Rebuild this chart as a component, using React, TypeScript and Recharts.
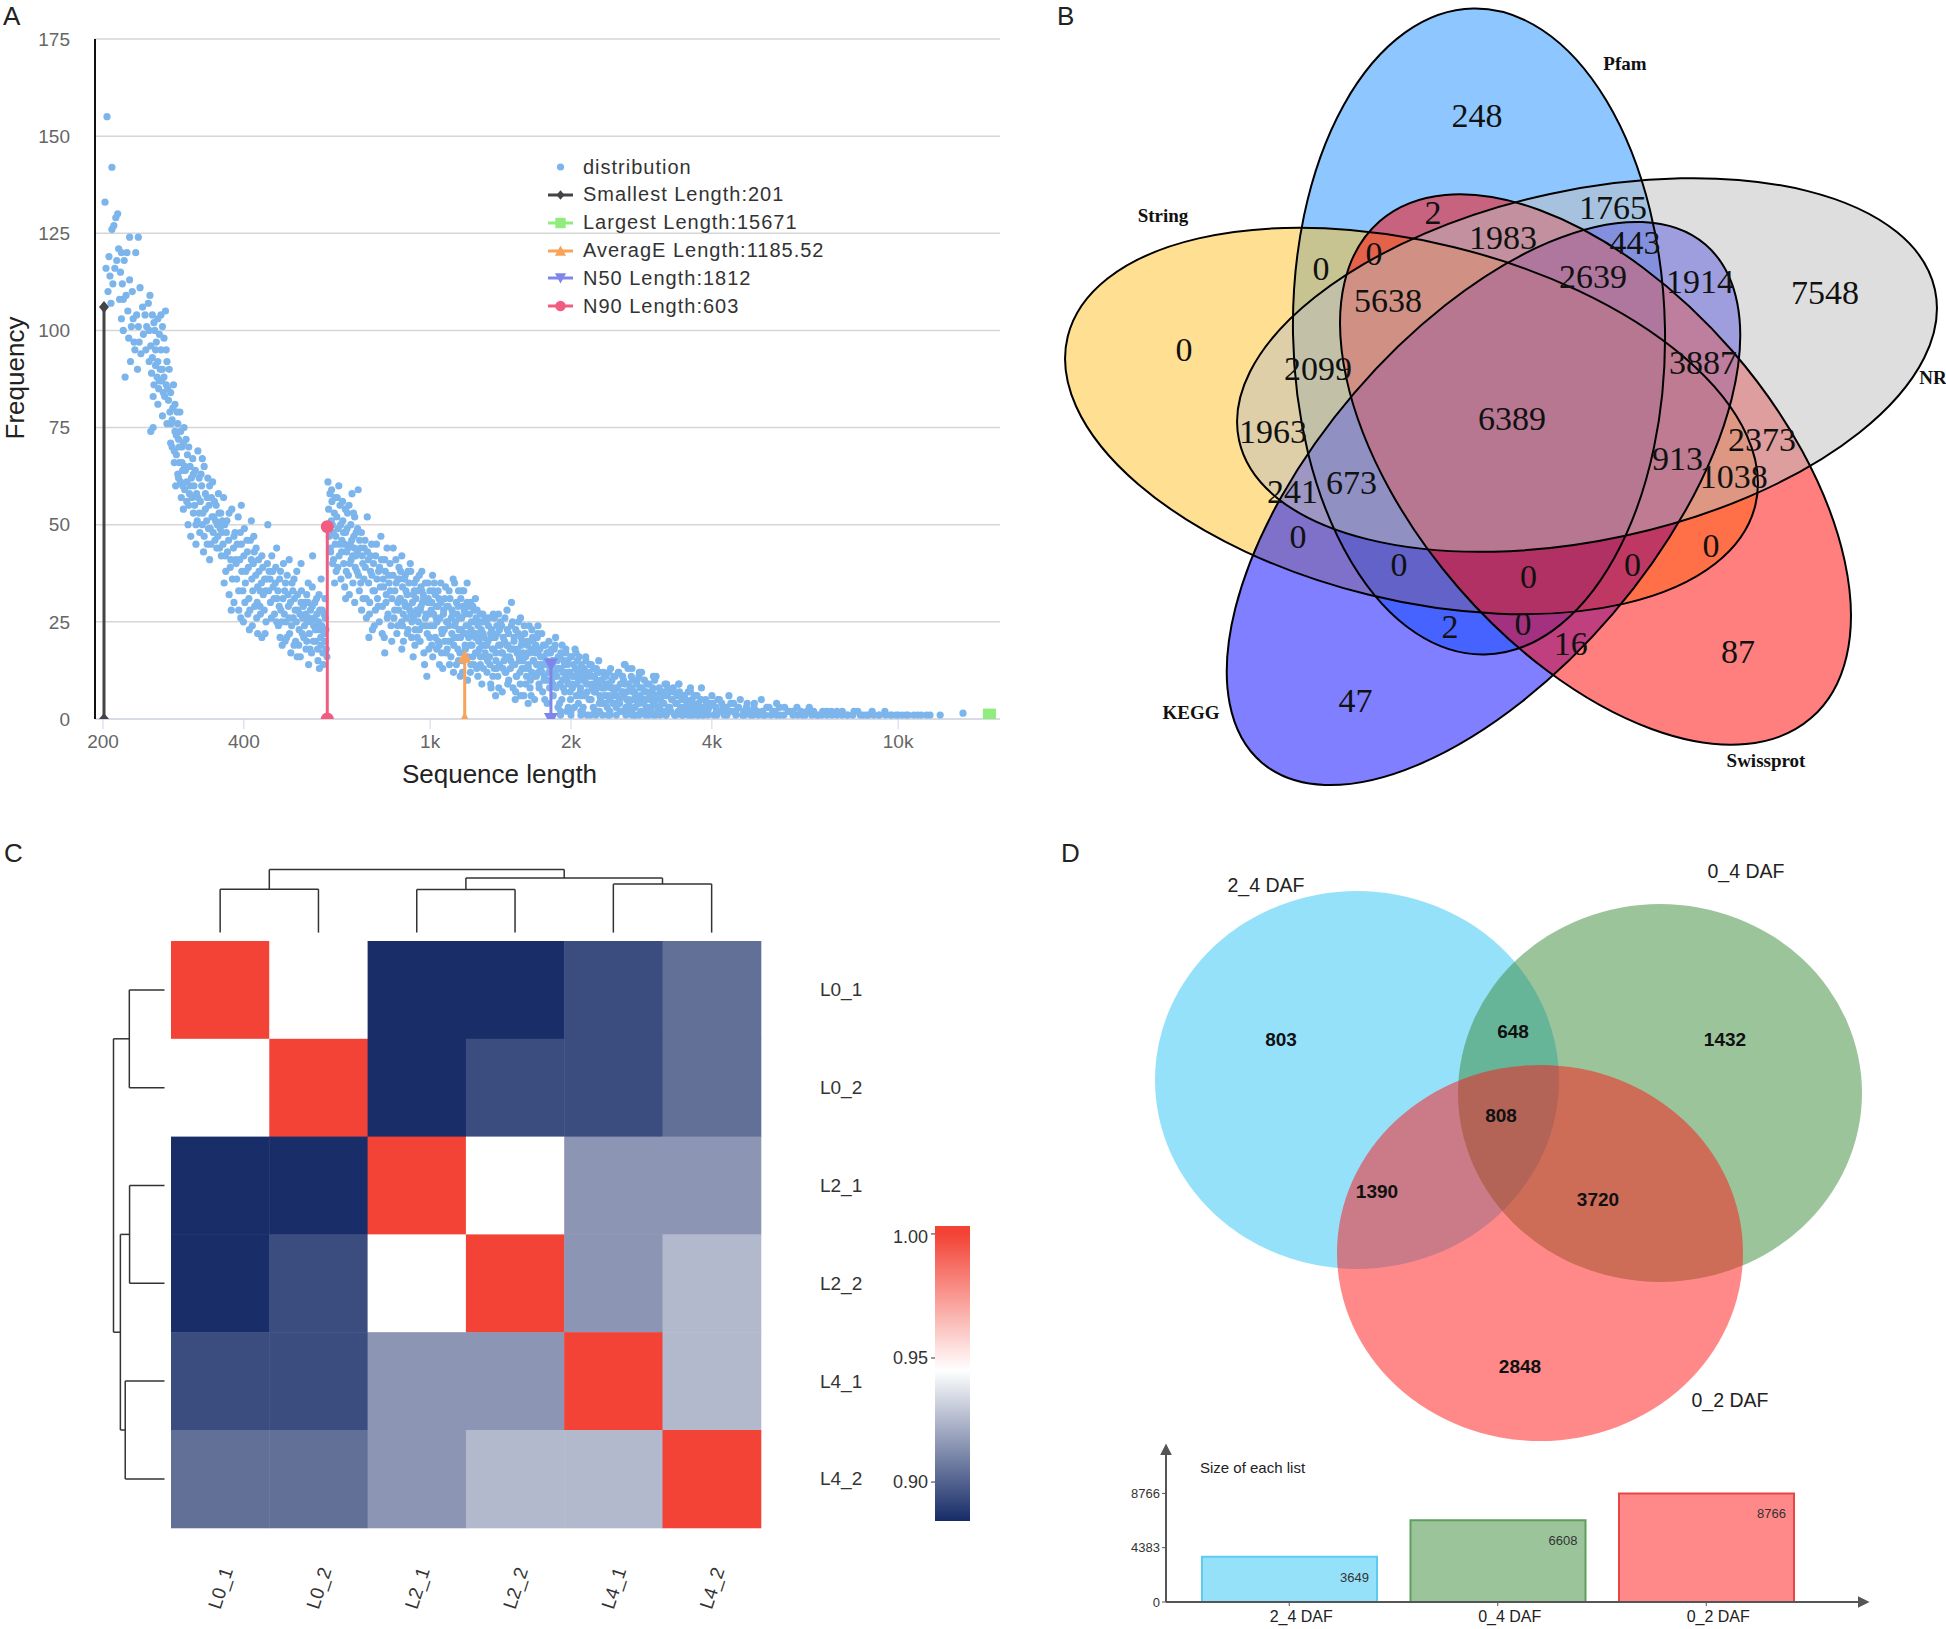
import React from 'react';
import {
  ScatterChart, Scatter, XAxis, YAxis, CartesianGrid, Legend, ReferenceLine,
  BarChart, Bar, LabelList, Cell,
} from 'recharts';

const SANS = '"Liberation Sans", Arial, Helvetica, sans-serif';
const SERIF = '"Liberation Serif", "Times New Roman", serif';

/* ---------------- A: length distribution ---------------- */
// [sequence length, frequency]
const distShort = [
  [202,133],[204,155],[205,110],[206,119],[207,114],[209,142],[209,126],[210,112],[211,127],[212,116],[213,129],[214,118],[215,130],[203,116],[208,107],[216,121],[218,115],[217,108],[219,120],[220,112],[221,108],[222,118],[225,120],[228,124],[228,113],[231,110],[219,103],[221,100],[224,109],[226,105],[227,98],[230,101],[232,103],[233,97],[229,92],[223,88],[234,95],[235,120],[236,104],[237,90],[238,124],[238,101],[239,97],[240,111],[241,94],[243,106],[244,99],[246,104],[247,95],[248,101],
  [250,107],[252,109],[255,104],[258,100],[260,97],[262,103],[264,99],[266,95],[268,101],[270,98],[272,105],[274,92],[251,92],[254,89],[257,86],[259,91],[261,88],[263,85],[265,90],[267,87],[269,84],[271,83],[273,86],[276,82],[253,74],[256,75],[278,79],[280,76],[282,80],[285,74],[288,79],[290,72],[292,79],[295,70],[298,75],[281,70],[284,66],[287,68],[289,63],[291,66],[293,61],[296,64],[299,59],[294,57],[297,54],[286,60],
  [301,72],[303,68],[305,70],[307,65],[309,62],[311,67],[313,60],[315,64],[317,58],[319,69],[321,62],[323,56],[325,60],[327,53],[329,65],[331,58],[333,51],[335,62],[337,55],[339,49],[341,57],[343,61],[345,52],[347,46],[349,55],[351,50],[353,58],[355,44],[357,53],[359,48],[304,50],[308,47],[312,53],[316,45],[322,48],[328,43],[334,45],[302,56],[318,51],[306,58],[326,67],[338,41],
  [362,57],[365,42],[368,51],[371,46],[374,39],[377,54],[380,44],[383,48],[386,36],[389,52],[392,41],[395,45],[398,33],[401,49],[404,38],[407,43],[410,31],[413,46],[416,36],[419,40],[422,29],[425,44],[428,34],[431,38],[434,27],[437,42],[440,32],[443,36],[446,25],[449,40],[363,35],[372,32],[381,30],[390,28],[399,25],[408,27],[417,24],[428,22],[437,21],[395,55],[415,51],[450,50],[367,48],[385,40],[402,30],[420,47],[433,33],
  [453,38],[456,30],[459,42],[462,34],[465,27],[468,39],[471,31],[474,24],[477,36],[480,28],[483,19],[486,40],[489,33],[492,25],[495,37],[498,29],[501,22],[504,17],[507,35],[510,26],[513,31],[516,20],[519,38],[522,28],[525,23],[528,16],[531,33],[534,26],[537,21],[540,30],[543,18],[546,25],[549,35],[552,22],[555,28],[558,17],[561,42],[564,24],[567,30],[570,20],[573,27],[576,15],[579,32],[582,23],[585,19],[588,28],[591,14],[594,22],[597,26],[600,18],[560,34],[530,40],[470,44],[500,41],[585,36],[478,21],[512,36],[545,32],[575,24],[596,31],
];
// second pass over the short-length part of the cloud
const distShortDense = [
  [251,100],[253,96],[255,93],[257,102],[259,95],[262,92],[264,87],[266,104],[268,90],[270,88],[273,95],[275,85],[277,90],[279,84],[281,77],[283,86],[285,81],[287,73],[289,76],[291,70],[293,74],[295,66],[297,71],[299,65],[256,83],[262,81],[268,78],[274,76],[279,71],[284,69],[290,62],[296,60],
  [300,64],[302,61],[305,55],[307,60],[310,57],[312,63],[314,55],[316,50],[319,57],[321,53],[324,63],[326,50],[329,47],[331,54],[334,57],[336,49],[338,60],[340,45],[342,52],[344,48],[346,56],[348,51],[350,44],[352,47],[354,53],[356,49],[358,42],[360,51],
  [361,45],[364,50],[366,38],[369,43],[372,53],[375,41],[378,36],[381,47],[384,41],[387,45],[390,33],[393,48],[396,38],[400,42],[403,35],[406,46],[409,39],[412,28],[415,41],[418,33],[421,43],[424,37],[427,30],[430,41],[433,29],[436,35],[439,39],[442,28],[445,33],[448,36],[376,28],[394,26],[411,23],[426,26],[444,22],
  [452,33],[455,36],[458,26],[461,38],[464,31],[467,35],[470,25],[473,33],[476,29],[479,38],[482,25],[485,31],[488,27],[491,35],[494,21],[497,32],[500,26],[503,30],[506,24],[509,33],[512,19],[515,28],[518,25],[521,32],[524,19],[527,27],[530,30],[533,22],[536,29],[539,24],[542,27],[545,20],[548,30],[551,26],[554,18],[557,25],[560,29],[563,20],[566,26],[569,23],[572,31],[575,18],[578,25],[581,28],[584,21],[587,24],[590,17],[593,27],[596,20],[599,23],[602,16],[490,20],[520,16],[550,14],[580,13],
];
const distMid = [
  [605,61],[607,54],[609,47],[611,58],[613,43],[615,51],[617,56],[619,40],[621,48],[624,53],[627,45],[630,38],[633,57],[636,49],[639,42],[642,55],[645,36],[648,46],[651,51],[654,40],[657,34],[660,48],[663,43],[666,53],[669,37],[672,32],[675,45],[678,41],[681,58],[684,35],[687,47],[690,30],[694,42],[698,38],[702,59],[706,33],[710,44],[714,28],[718,40],[625,35],[660,31],[690,52],[700,49],
  [722,36],[726,46],[730,31],[734,52],[738,41],[742,27],[746,38],[750,45],[755,33],[760,24],[765,42],[770,36],[775,29],[780,39],[785,47],[790,22],[795,34],[800,41],[805,30],[810,26],[816,37],[822,33],[828,20],[834,44],[840,28],[846,35],[852,24],[858,39],[864,31],[870,18],[876,27],[882,36],[888,33],[894,22],[900,29],[907,40],[914,25],[921,32],[928,19],[935,36],[942,27],[949,23],[956,34],[963,30],[970,17],[977,26],[984,11],[991,31],[998,21],[740,21],[800,17],[870,42],[920,16],[960,38],[990,35],
  [853,30],[861,36],[873,24],[885,29],[897,38],[911,27],[925,33],[939,21],[953,28],[967,32],[981,24],[995,27],
  [1005,28],[1012,37],[1019,24],[1026,32],[1033,18],[1040,29],[1047,14],[1054,35],[1061,22],[1068,27],[1075,31],[1082,17],[1090,25],[1098,33],[1106,20],[1114,28],[1122,12],[1130,24],[1138,30],[1146,18],[1154,26],[1162,21],[1170,33],[1178,15],[1186,27],[1194,22],[1202,10],[1210,29],[1218,19],[1226,25],[1234,16],[1242,28],[1250,21],[1258,13],[1266,24],[1274,18],[1282,27],[1290,9],[1298,22],[1306,16],[1314,26],[1040,20],[1100,14],[1160,11],[1220,30],[1280,14],[1180,33],
  [1008,19],[1016,33],[1030,26],[1044,31],[1058,17],[1072,23],[1086,29],[1094,20],[1110,26],[1126,21],[1142,27],[1150,15],[1166,23],[1174,29],[1190,18],[1206,24],[1222,14],[1238,22],[1254,26],[1262,17],[1278,21],[1294,25],[1310,19],
  [1322,19],[1332,24],[1342,14],[1352,21],[1362,11],[1372,26],[1382,17],[1392,22],[1402,8],[1412,19],[1422,24],[1432,13],[1442,20],[1452,16],[1462,23],[1472,10],[1482,18],[1492,30],[1502,14],[1512,21],[1523,7],[1534,17],[1545,22],[1556,12],[1567,19],[1578,15],[1589,24],[1600,9],[1611,20],[1622,13],[1633,17],[1644,6],[1655,21],[1666,11],[1677,18],[1688,14],[1699,22],[1710,8],[1722,16],[1734,12],[1746,19],[1758,5],[1770,15],[1782,10],[1794,20],[1400,27],[1500,25],[1650,23],[1350,8],[1560,6],[1700,17],
  [1327,15],[1347,22],[1367,18],[1387,13],[1407,23],[1427,17],[1447,12],[1467,19],[1487,15],[1507,18],[1528,11],[1550,16],[1572,20],[1594,13],[1616,17],[1638,10],[1660,15],[1682,19],[1704,12],[1728,14],[1752,10],[1776,17],[1800,12],
  [1806,13],[1818,18],[1830,9],[1842,15],[1854,21],[1866,11],[1878,16],[1890,4],[1902,13],[1914,19],[1926,8],[1938,14],[1950,17],[1962,10],[1974,3],[1986,12],[1998,16],
  [1824,15],[1848,11],[1872,13],[1896,16],[1920,10],[1944,12],[1968,15],[1992,7],[1900,2],
];
// second pass over the dense body of the cloud
const distDense = [
  [612,44],[616,59],[618,50],[622,41],[626,57],[629,47],[632,52],[635,39],[638,60],[641,45],[644,50],[647,43],[650,56],[653,48],[656,45],[659,54],[662,38],[665,49],[668,44],[671,55],[674,40],[677,50],[680,46],[683,42],[686,53],[689,44],[692,39],[695,48],[699,43],[703,37],[707,46],
  [711,35],[713,48],[716,42],[719,31],[723,44],[727,39],[731,26],[735,43],[739,35],[743,30],[747,42],[751,37],[753,23],[757,40],[761,33],[764,28],[768,45],[772,31],[776,38],[779,25],[783,34],[787,41],[791,29],[794,36],[798,21],[802,38],[806,32],[809,44],[813,27],[817,35],[821,40],[825,24],[829,31],[833,37],[837,26],[841,33],[845,41],[849,22],[853,36],[857,28],[861,31],[865,38],[869,25],[873,34],[877,20],[881,30],[885,37],[889,26],[893,32],[897,23],[901,35],[905,28],[909,38],[913,21],[917,30],[921,26],[925,35],[929,23],[933,31],[936,28],
  [939,33],[944,25],[948,37],[952,20],[956,29],[960,33],[965,24],[969,31],[973,14],[977,35],[981,27],[986,22],[990,30],[994,18],[999,33],[1003,24],[1008,30],[1013,16],[1017,27],[1021,35],[1026,21],[1031,29],[1035,25],[1040,33],[1045,19],[1050,26],[1055,30],[1059,23],[1064,13],[1069,28],[1074,20],[1079,34],[1084,25],[1088,18],[1093,29],[1098,24],[1103,31],[1108,16],[1113,22],[1118,27],[1123,19],[1128,35],[1133,25],[1138,14],[1143,21],[1148,29],[1153,23],[1158,17],[1163,31],[1168,26],[1173,12],[1178,22],[1183,28],[1188,19],[1193,24],[1199,30],[1204,16],[1209,21],[1214,27],[1219,12],[1224,23],[1229,19],[1234,29],[1240,14],[1245,25],[1250,17],[1255,22],[1260,28],[1265,11],[1270,20],[1275,25],[1281,16],[1286,23],[1291,19],[1296,27],[1300,13],[1120,36],[1150,33],[1200,35],[1250,31],
  [1305,21],[1311,17],[1317,25],[1323,12],[1329,20],[1335,26],[1341,16],[1347,9],[1353,23],[1359,18],[1365,27],[1371,13],[1377,21],[1383,15],[1389,24],[1395,11],[1401,19],[1407,14],[1414,25],[1420,17],[1426,7],[1433,21],[1439,15],[1445,26],[1452,12],[1458,19],[1465,9],[1471,22],[1478,16],[1484,13],[1491,24],[1497,18],[1504,8],[1511,20],[1517,14],[1524,23],[1531,11],[1538,18],[1544,25],[1551,15],[1558,9],[1565,21],[1572,13],[1579,17],[1586,6],[1593,22],[1600,16],[1607,11],[1614,19],[1621,14],[1628,24],[1635,8],[1643,18],[1650,12],[1657,20],[1665,15],[1672,5],[1679,17],[1687,11],[1694,21],[1702,14],[1709,9],[1717,18],[1724,13],[1732,22],[1740,7],[1747,16],[1755,11],[1763,19],[1771,14],[1779,4],[1787,17],[1795,12],[1800,8],[1460,28],[1560,26],[1700,24],[1620,4],[1520,5],[1380,6],
  [1808,17],[1816,10],[1825,14],[1833,6],[1842,18],[1850,12],[1859,8],[1868,15],[1876,3],[1885,13],[1894,9],[1903,17],[1912,5],[1921,12],[1930,15],[1939,7],[1948,11],[1958,2],[1967,14],[1976,9],[1986,12],[1995,5],[2005,16],[2014,8],[2024,11],[2034,3],[2044,13],[2054,9],[2064,15],[2074,4],[2084,11],[2094,7],[2104,14],[2114,2],[2125,10],[2135,13],[2146,6],[2156,11],[2167,1],[2178,9],[2189,12],[2199,5],[2210,14],[2221,8],[2232,3],[2244,11],[2255,7],[2266,13],[2278,2],[2289,9],[2301,12],[2313,5],[2324,10],[2336,1],[2348,8],[2360,11],[2372,4],[2384,9],[2397,6],[2409,12],[2421,2],[2434,8],[2446,10],[2459,4],[2472,7],[2485,11],[2498,3],[1850,19],[1950,18],[2050,17],[2150,16],[1900,1],[2000,2],[2100,1],[2260,1],[2420,1],
  [2512,8],[2525,12],[2538,5],[2551,9],[2565,2],[2578,11],[2592,6],[2606,9],[2620,1],[2634,7],[2648,13],[2662,4],[2676,8],[2690,2],[2705,10],[2719,5],[2734,7],[2749,1],[2764,9],[2779,4],[2794,11],[2809,6],[2824,2],[2840,8],[2855,5],[2871,10],[2887,1],[2903,7],[2919,3],[2935,9],[2951,5],[2968,2],[2984,7],[3001,4],[3018,10],[3035,1],[3052,6],[3069,3],[3087,8],[3104,5],[3122,2],[3140,7],[3158,4],[3176,9],[3195,1],[3213,6],[3232,3],[3251,7],[3270,2],[3290,5],[3309,8],[3329,1],[3349,4],[3369,6],[3389,2],[3410,7],[3431,3],[3452,5],[3473,1],[3494,6],[3516,2],[3538,4],[3560,7],[3582,3],[3605,1],[3628,5],[3651,2],[3674,6],[3698,3],[3722,1],[3746,4],[3770,2],[3795,5],[3820,1],[3845,3],[3870,2],[3896,4],[3922,1],[3948,3],[2600,14],[2700,13],[2800,12],[3000,11],[3200,9],[3400,9],[3600,8],
];
const distLong = [
  [2012,9],[2026,14],[2040,18],[2054,6],[2068,12],[2082,16],[2096,8],[2110,13],[2124,3],[2138,10],[2152,15],[2166,7],[2180,11],[2194,14],[2208,5],[2222,9],[2236,13],[2250,2],[2264,8],[2278,12],[2292,15],[2306,6],[2320,10],[2334,4],[2348,12],[2362,8],[2376,11],[2390,3],
  [2018,11],[2047,13],[2075,10],[2103,6],[2131,12],[2159,9],[2187,5],[2215,11],[2243,7],[2271,10],[2299,4],[2327,8],[2355,6],[2383,9],[2000,1],[2100,2],[2200,1],[2300,2],
  [2410,9],[2430,13],[2450,6],[2470,11],[2490,4],[2510,8],[2530,12],[2550,2],[2570,7],[2590,10],[2610,14],[2630,5],[2650,9],[2670,3],[2690,11],[2710,7],[2730,1],[2750,6],[2770,10],[2790,4],[2810,8],[2830,12],[2850,2],[2870,7],[2890,5],[2910,9],[2930,1],[2950,6],[2970,3],[2990,8],[3010,5],[3040,11],[3070,2],[3100,7],[3130,4],[3160,6],[3190,1],
  [2420,5],[2460,8],[2500,6],[2540,4],[2580,7],[2620,3],[2660,5],[2700,8],[2740,3],[2780,5],[2820,2],[2860,4],[2900,3],[2960,2],[3020,4],[3090,3],[3150,2],[2400,1],[2500,1],[2600,2],[2700,1],[2800,1],[2900,2],[3000,1],[3100,1],
  [3220,8],[3250,3],[3280,5],[3310,7],[3340,1],[3370,4],[3400,9],[3430,2],[3460,6],[3490,3],[3520,5],[3560,1],[3600,7],[3640,4],[3680,2],[3720,6],[3760,3],[3800,8],[3840,1],[3880,5],[3920,2],[3960,4],[4000,6],[4040,1],[4080,3],[4120,5],[4160,2],[4200,4],[4250,1],[4300,3],[4350,6],[4400,2],[4450,4],[4500,1],[4550,3],[4600,5],
  [3250,2],[3350,1],[3450,1],[3550,2],[3650,1],[3750,1],[3900,2],[4100,1],[4300,2],[4500,2],[4700,1],[4900,1],[5150,1],[5500,1],
  [4020,4],[4090,2],[4150,5],[4230,3],[4310,1],[4390,4],[4470,2],[4560,3],[4650,1],[4740,3],[4830,2],[4930,4],[5030,1],[5130,2],[5240,3],[5350,1],[5460,2],[5580,3],[5700,1],[5830,2],[5960,2],[6100,1],[6240,1],[6390,2],[6540,1],[6700,1],[6870,1],[7040,2],[7220,1],[7400,2],[7590,1],[7790,1],[8000,1],[8200,2],[8420,1],[8650,1],[8880,1],[9120,1],[9370,2],[9630,1],[9900,1],[10200,1],[10500,1],[11000,1],[11500,1],
  [4680,2],[4760,4],[4840,1],[4920,3],[5000,2],[5100,5],[5200,1],[5300,3],[5400,2],[5500,4],[5600,1],[5720,3],[5840,2],[5960,1],[6080,3],[6200,2],[6330,1],[6460,3],[6600,2],[6750,1],[6900,2],[7050,1],[7200,2],[7400,1],[7600,2],[7800,1],
  [8050,2],[8300,1],[8550,1],[8800,2],[9100,1],[9400,1],[9700,1],[10000,1],[10400,1],[10800,1],[11200,1],[11700,1],[12300,1],[13760,1.5],
];
const lengthTicks = [200, 400, 1000, 2000, 4000, 10000];
const freqTicks = [0, 25, 50, 75, 100, 125, 150, 175];
const statNames = ['Smallest Length:201', 'Largest Length:15671', 'AveragE Length:1185.52', 'N50 Length:1812', 'N90 Length:603'];
const statLengths = [201, 15671, 1185.52, 1812, 603];
const statFreqs = [106, 1, 16, 14, 49.5];
const statColors = ['#434348', '#90ed7d', '#f7a35c', '#8085e9', '#f15c80'];
const statMarkers = ['diamond', 'square', 'triangle', 'triangle-down', 'circle'];

/* ---------------- B: five-set venn ---------------- */
const vennBSets = ['Pfam', 'String', 'KEGG', 'Swissprot', 'NR'];
const vennBCounts = [248, 7548, 87, 47, 0, 1765, 2, 1983, 443, 0, 0, 2639, 1914, 5638, 2099, 3887, 6389, 1963, 2373, 913, 1038, 241, 673, 0, 0, 0, 0, 0, 2, 0, 16];
// layout (panel pixels)
const vennBColors = ['#1E90FF', '#FFC125', '#0000FF', '#FF0000', '#BDBDBD'];
const vennBShapes = [
  { x: 439, y: 331.5, rx: 323, ry: 186, rot: 89 },
  { x: 371.5, y: 421, rx: 354, ry: 179, rot: 13.8 },
  { x: 443.5, y: 503.5, rx: 341, ry: 170, rot: 130.6 },
  { x: 555.5, y: 469.5, rx: 329, ry: 181, rot: 49 },
  { x: 547, y: 365, rx: 356, ry: 175, rot: -12.2 },
];
const vennBSetPos = [[585, 63.5], [123, 215], [151, 712.5], [726, 760], [893, 377.6]];
const vennBCountPos = [[437,115],[785,292],[698,651],[315.5,700],[144,349.5],[573,207],[393,212],[463,237],[595,242],[281,268.6],[334,253],[553,276],[660,281],[348,300.6],[278,368],[663,362],[472,418.6],[233,431.5],[722,439],[637.5,458],[693.7,476.5],[252.6,491.7],[311.6,482],[258,536.6],[359,564.7],[488.6,576],[592.5,564.7],[671,545],[410,626.5],[483,623.7],[530.7,643]];

/* ---------------- C: correlation heatmap ---------------- */
const sampleNames = ['L0_1', 'L0_2', 'L2_1', 'L2_2', 'L4_1', 'L4_2'];
const corr = [
  [1.000, 0.945, 0.885, 0.885, 0.894, 0.904],
  [0.945, 1.000, 0.885, 0.894, 0.894, 0.904],
  [0.885, 0.885, 1.000, 0.945, 0.915, 0.915],
  [0.885, 0.894, 0.945, 1.000, 0.915, 0.925],
  [0.894, 0.894, 0.915, 0.915, 1.000, 0.925],
  [0.904, 0.904, 0.915, 0.925, 0.925, 1.000],
];
// hierarchical clustering: children (leaves 0-5, merges 6..) and relative heights
const mergePairs = [[0, 1], [2, 3], [4, 5], [7, 8], [6, 9]];
const mergeHeights = [0.69, 0.685, 0.77, 0.865, 1.0];
const scaleMin = 0.8843, scaleWhite = 0.945, scaleMax = 1.0032;
const scaleTicks = [0.9, 0.95, 1.0];

/* ---------------- D: three-set venn + list sizes ---------------- */
const vennDSets = ['2_4 DAF', '0_4 DAF', '0_2 DAF'];
const vennDCounts = [803, 648, 1432, 808, 1390, 3720, 2848];
const vennDShapes = [
  { x: 317, y: 250, rx: 202, ry: 189 },
  { x: 620, y: 263, rx: 202, ry: 189 },
  { x: 500, y: 423, rx: 203, ry: 188 },
];
const vennDColors = ['#2DC3F5', '#378937', '#FF1313'];
const vennDSetPos = [[226, 55], [706, 41], [690, 570]];
const vennDCountPos = [[241, 209], [473, 201], [685, 209], [461, 285], [337, 361], [558, 369], [480, 536]];
const listSizes = [3649, 6608, 8766];
const listTicks = [0, 4383, 8766];
const barFills = ['#96E1FA', '#9BC49B', '#FF8989'];
const barStrokes = ['#5CCBEF', '#5E9E5E', '#E84545'];

/* ---------------- helpers ---------------- */
const fmtLen = (v: number) => (v >= 1000 ? `${v / 1000}k` : `${v}`);

const markerShape = (kind: string, color: string, cx: number, cy: number, k = 1) => {
  switch (kind) {
    case 'diamond':
      return <path d={`M${cx},${cy - 6 * k}L${cx + 5 * k},${cy}L${cx},${cy + 6 * k}L${cx - 5 * k},${cy}Z`} fill={color} />;
    case 'square':
      return <rect x={cx - 6.5 * k} y={cy - 6.5 * k} width={13 * k} height={13 * k} fill={color} />;
    case 'triangle':
      return <path d={`M${cx},${cy - 7 * k}L${cx + 7 * k},${cy + 6 * k}L${cx - 7 * k},${cy + 6 * k}Z`} fill={color} />;
    case 'triangle-down':
      return <path d={`M${cx - 7 * k},${cy - 6 * k}L${cx + 7 * k},${cy - 6 * k}L${cx},${cy + 7 * k}Z`} fill={color} />;
    default:
      return <circle cx={cx} cy={cy} r={6.5 * k} fill={color} />;
  }
};

const NAVY = [22, 43, 103], WHITE = [255, 255, 255], RED = [243, 67, 54];
const mix = (a: number[], b: number[], t: number) => {
  const c = a.map((v, i) => Math.round(v + (b[i] - v) * Math.max(0, Math.min(1, t))));
  return `rgb(${c[0]},${c[1]},${c[2]})`;
};
const heatColor = (v: number) =>
  v <= scaleWhite
    ? mix(NAVY, WHITE, (v - scaleMin) / (scaleWhite - scaleMin))
    : mix(WHITE, RED, (v - scaleWhite) / (1 - scaleWhite));

const LegendA = () => (
  <div style={{ fontFamily: SANS, fontSize: 20, color: '#333', letterSpacing: 1 }}>
    <div style={{ display: 'flex', alignItems: 'center', height: 28 }}>
      <svg width={30} height={28}><circle cx={12.5} cy={14} r={3.6} fill="#7cb5ec" /></svg>
      <span style={{ marginLeft: 5 }}>distribution</span>
    </div>
    {statNames.map((n, i) => (
      <div key={n} style={{ display: 'flex', alignItems: 'center', height: 27.8 }}>
        <svg width={30} height={28}>
          <line x1={0} x2={25} y1={14} y2={14} stroke={statColors[i]} strokeWidth={3} />
          {markerShape(statMarkers[i], statColors[i], 12.5, 14, 0.8)}
        </svg>
        <span style={{ marginLeft: 5 }}>{n}</span>
      </div>
    ))}
  </div>
);

const PanelA = () => {
  const dist = [...distShort, ...distShortDense, ...distMid, ...distDense, ...distLong].map(([x, y]) => ({ x, y }));
  return (
    <ScatterChart width={1010} height={800} margin={{ top: 39, right: 10, bottom: 0, left: 0 }}>
      <CartesianGrid horizontal vertical={false} stroke="#d6d6d6" strokeWidth={1.5} />
      <XAxis
        type="number" dataKey="x" scale="log" domain={[192.3, 16508]} allowDataOverflow
        ticks={lengthTicks} tickFormatter={fmtLen} height={81}
        axisLine={{ stroke: '#ccd6eb' }} tickLine={{ stroke: '#ccd6eb' }} tickSize={10} tickMargin={6}
        tick={{ fontSize: 19, fill: '#666', fontFamily: SANS }}
        label={{
          content: () => (
            <text x={499.5} y={783} textAnchor="middle" fontSize={26} fill="#222" fontFamily={SANS}>Sequence length</text>
          ),
        }}
      />
      <YAxis
        type="number" dataKey="y" domain={[0, 175]} allowDataOverflow ticks={freqTicks} width={95}
        axisLine={{ stroke: '#111', strokeWidth: 2 }} tickLine={false} tickSize={0} tickMargin={25}
        tick={{ fontSize: 19, fill: '#666', fontFamily: SANS }}
        label={{
          content: () => (
            <text x={24} y={378} transform="rotate(-90 24 378)" textAnchor="middle" fontSize={26} fill="#222" fontFamily={SANS}>Frequency</text>
          ),
        }}
      />
      <Legend layout="vertical" align="center" verticalAlign="middle" content={() => <LegendA />}
        wrapperStyle={{ left: 548, top: 153, width: 340 }} />
      <Scatter name="distribution" data={dist} fill="#7cb5ec" isAnimationActive={false}
        shape={(p: any) => <circle cx={p.cx} cy={p.cy} r={3.6} fill="#7cb5ec" />} />
      {statNames.map((n, i) => (
        <Scatter key={n} name={n} data={[{ x: statLengths[i], y: 0 }, { x: statLengths[i], y: statFreqs[i] }]}
          fill={statColors[i]} line={{ stroke: statColors[i], strokeWidth: 3 }} isAnimationActive={false}
          shape={(p: any) => markerShape(statMarkers[i], statColors[i], p.cx, p.cy)} />
      ))}
    </ScatterChart>
  );
};

const PanelB = () => {
  const shapes = vennBShapes.map((s, i) => ({ ...s, name: vennBSets[i], color: vennBColors[i] }));
  const counts = vennBCounts.map((c, i) => ({ x: vennBCountPos[i][0], y: vennBCountPos[i][1], label: String(c) }));
  const sets = vennBSets.map((n, i) => ({ x: vennBSetPos[i][0], y: vennBSetPos[i][1], label: n }));
  const ell = (outline: boolean) => (p: any) => (
    <ellipse cx={p.cx} cy={p.cy} rx={p.payload.rx} ry={p.payload.ry}
      transform={`rotate(${p.payload.rot} ${p.cx} ${p.cy})`}
      fill={outline ? 'none' : p.payload.color} fillOpacity={outline ? 0 : 0.5}
      stroke={outline ? '#000' : 'none'} strokeWidth={outline ? 2 : 0} />
  );
  return (
    <ScatterChart width={906} height={800} margin={{ top: 0, right: 0, bottom: 0, left: 0 }}>
      <XAxis type="number" dataKey="x" domain={[0, 906]} allowDataOverflow hide />
      <YAxis type="number" dataKey="y" domain={[0, 800]} allowDataOverflow reversed hide />
      <Scatter data={shapes} shape={ell(false)} isAnimationActive={false} />
      <Scatter data={shapes} shape={ell(true)} isAnimationActive={false} />
      <Scatter data={counts} isAnimationActive={false}
        shape={(p: any) => (
          <text x={p.cx} y={p.cy} textAnchor="middle" dominantBaseline="central" fontFamily={SERIF} fontSize={34} fill="#111">{p.payload.label}</text>
        )} />
      <Scatter data={sets} isAnimationActive={false}
        shape={(p: any) => (
          <text x={p.cx} y={p.cy} textAnchor="middle" dominantBaseline="central" fontFamily={SERIF} fontWeight="bold" fontSize={19} fill="#111">{p.payload.label}</text>
        )} />
    </ScatterChart>
  );
};

const C_X0 = -0.7223, C_X1 = 8.4334, C_Y0 = -0.9305, C_Y1 = 7.0348, C_W = 900, C_H = 779;
const cellW = C_W / (C_X1 - C_X0);
const cellH = C_H / (C_Y1 - C_Y0);

const dendroSegments = () => {
  const pos: number[] = sampleNames.map((_, i) => i + 0.5);
  const hgt: number[] = sampleNames.map(() => 0);
  const segs: number[][] = [];
  mergePairs.forEach(([a, b], k) => {
    const h = mergeHeights[k];
    segs.push([pos[a], hgt[a], pos[a], h], [pos[b], hgt[b], pos[b], h], [pos[a], h, pos[b], h]);
    pos.push((pos[a] + pos[b]) / 2);
    hgt.push(h);
  });
  return segs;
};

const PanelC = () => {
  const cells = corr.flatMap((row, r) => row.map((v, c) => ({ x: c + 0.5, y: r + 0.5, v })));
  const rowLabels = sampleNames.map((n, i) => ({ x: 6.602, y: i + 0.5, label: n }));
  const colLabels = sampleNames.map((n, i) => ({ x: i + 0.57, y: 6.411, label: n }));
  const segs = dendroSegments();
  const topBase = -0.086, topSpan = 0.644, leftBase = -0.066, leftSpan = 0.519;
  return (
    <ScatterChart width={C_W} height={C_H} margin={{ top: 0, right: 0, bottom: 0, left: 0 }}>
      <XAxis type="number" dataKey="x" domain={[C_X0, C_X1]} allowDataOverflow hide />
      <YAxis type="number" dataKey="y" domain={[C_Y0, C_Y1]} allowDataOverflow reversed hide />
      <Scatter data={cells} isAnimationActive={false}
        shape={(p: any) => (
          <rect x={p.cx - cellW / 2} y={p.cy - cellH / 2} width={cellW + 0.5} height={cellH + 0.5} fill={heatColor(p.payload.v)} />
        )} />
      {segs.map((s, i) => (
        <ReferenceLine key={`t${i}`} ifOverflow="visible" stroke="#333" strokeWidth={1.5}
          segment={[{ x: s[0], y: topBase - s[1] * topSpan }, { x: s[2], y: topBase - s[3] * topSpan }]} />
      ))}
      {segs.map((s, i) => (
        <ReferenceLine key={`l${i}`} ifOverflow="visible" stroke="#333" strokeWidth={1.5}
          segment={[{ x: leftBase - s[1] * leftSpan, y: s[0] }, { x: leftBase - s[3] * leftSpan, y: s[2] }]} />
      ))}
      <Scatter data={rowLabels} isAnimationActive={false}
        shape={(p: any) => (
          <text x={p.cx} y={p.cy} dominantBaseline="central" fontFamily={SANS} fontSize={19} fill="#333">{p.payload.label}</text>
        )} />
      <Scatter data={colLabels} isAnimationActive={false}
        shape={(p: any) => (
          <text x={p.cx} y={p.cy} dy="0.35em" textAnchor="end" transform={`rotate(-72 ${p.cx} ${p.cy})`} fontFamily={SANS} fontSize={19} fill="#333">{p.payload.label}</text>
        )} />
    </ScatterChart>
  );
};

const ColorBar = () => (
  <BarChart width={125} height={295} data={[{ k: 'scale', range: [scaleMin, scaleMax] }]}
    margin={{ top: 0, right: 5, bottom: 0, left: 0 }} barCategoryGap={0}>
    <XAxis dataKey="k" hide />
    <YAxis type="number" domain={[scaleMin, scaleMax]} allowDataOverflow ticks={scaleTicks} width={85}
      tickFormatter={(v: number) => v.toFixed(2)} axisLine={false} tickLine={{ stroke: '#333' }} tickSize={4} tickMargin={3}
      tick={{ fontSize: 18, fill: '#333', fontFamily: SANS }} />
    <Bar dataKey="range" fill="url(#cbarGrad)" isAnimationActive={false} />
  </BarChart>
);

const PanelD = () => {
  const shapes = vennDShapes.map((s, i) => ({ ...s, color: vennDColors[i] }));
  const counts = vennDCounts.map((c, i) => ({ x: vennDCountPos[i][0], y: vennDCountPos[i][1], label: String(c) }));
  const sets = vennDSets.map((n, i) => ({ x: vennDSetPos[i][0], y: vennDSetPos[i][1], label: n }));
  return (
    <ScatterChart width={906} height={630} margin={{ top: 0, right: 0, bottom: 0, left: 0 }}>
      <XAxis type="number" dataKey="x" domain={[0, 906]} allowDataOverflow hide />
      <YAxis type="number" dataKey="y" domain={[0, 630]} allowDataOverflow reversed hide />
      <Scatter data={shapes} isAnimationActive={false}
        shape={(p: any) => <ellipse cx={p.cx} cy={p.cy} rx={p.payload.rx} ry={p.payload.ry} fill={p.payload.color} fillOpacity={0.5} />} />
      <Scatter data={counts} isAnimationActive={false}
        shape={(p: any) => (
          <text x={p.cx} y={p.cy} textAnchor="middle" dominantBaseline="central" fontFamily={SANS} fontWeight="bold" fontSize={19} fill="#111">{p.payload.label}</text>
        )} />
      <Scatter data={sets} isAnimationActive={false}
        shape={(p: any) => (
          <text x={p.cx} y={p.cy} textAnchor="middle" dominantBaseline="central" fontFamily={SANS} fontSize={19.5} fill="#222">{p.payload.label}</text>
        )} />
    </ScatterChart>
  );
};

const BarValue = (p: any) => (
  <text x={p.x + p.width - 8} y={p.y + 25} textAnchor="end" fontSize={13} fill="#333" fontFamily={SANS}>{p.value}</text>
);

const ListSizes = () => {
  const data = vennDSets.map((name, i) => ({ name, value: listSizes[i] }));
  return (
    <BarChart width={800} height={189} data={data} margin={{ top: 13, right: 40, bottom: 0, left: 0 }}>
      <XAxis dataKey="name" height={27} padding={{ left: 19, right: 49.5 }} interval={0}
        axisLine={{ stroke: '#555', strokeWidth: 2, markerEnd: 'url(#arrowHead)' }}
        tickLine={{ stroke: '#555' }} tickSize={4} tickMargin={5}
        tick={{ fontSize: 16, fill: '#222', fontFamily: SANS, dx: 12 }} />
      <YAxis type="number" domain={[0, 12027]} allowDataOverflow ticks={listTicks} width={66}
        axisLine={{ stroke: '#555', strokeWidth: 2, markerStart: 'url(#arrowHead)' }}
        tickLine={{ stroke: '#555' }} tickSize={4} tickMargin={2}
        tick={{ fontSize: 13, fill: '#333', fontFamily: SANS }}
        label={{
          content: () => (
            <text x={100} y={33} fontSize={15} fill="#222" fontFamily={SANS}>Size of each list</text>
          ),
        }} />
      <Bar dataKey="value" barSize={175} isAnimationActive={false}>
        {data.map((d, i) => <Cell key={d.name} fill={barFills[i]} stroke={barStrokes[i]} strokeWidth={2} />)}
        <LabelList dataKey="value" content={BarValue} />
      </Bar>
    </BarChart>
  );
};

const panelLetter = (t: string, left: number, top: number) => (
  <div style={{ position: 'absolute', left, top, fontFamily: SANS, fontSize: 26, lineHeight: '30px', color: '#222' }}>{t}</div>
);

const gradOffset = (v: number) => (scaleMax - v) / (scaleMax - scaleMin);

export default function App() {
  return (
    <div style={{ position: 'absolute', left: 0, top: 0, width: 1946, height: 1629, background: '#fff', overflow: 'hidden' }}>
      <svg width={0} height={0} style={{ position: 'absolute' }}>
        <defs>
          <marker id="arrowHead" viewBox="0 0 10 10" refX="2" refY="5" markerWidth="6" markerHeight="6" orient="auto-start-reverse">
            <path d="M0,0L10,5L0,10Z" fill="#555" />
          </marker>
          <linearGradient id="cbarGrad" x1="0" y1="0" x2="0" y2="1">
            <stop offset={0} stopColor="rgb(243,67,54)" />
            <stop offset={gradOffset(1.0)} stopColor="rgb(243,67,54)" />
            <stop offset={gradOffset(scaleWhite)} stopColor="#ffffff" />
            <stop offset={1} stopColor="rgb(22,43,103)" />
          </linearGradient>
        </defs>
      </svg>

      <div style={{ position: 'absolute', left: 0, top: 0 }}><PanelA /></div>
      <div style={{ position: 'absolute', left: 1040, top: 0 }}><PanelB /></div>
      <div style={{ position: 'absolute', left: 100, top: 850 }}><PanelC /></div>
      <div style={{ position: 'absolute', left: 850, top: 1226 }}><ColorBar /></div>
      <div style={{ position: 'absolute', left: 1040, top: 830 }}><PanelD /></div>
      <div style={{ position: 'absolute', left: 1100, top: 1440 }}><ListSizes /></div>

      {panelLetter('A', 3, 1)}
      {panelLetter('B', 1057, 1)}
      {panelLetter('C', 4, 838)}
      {panelLetter('D', 1061, 838)}
    </div>
  );
}
